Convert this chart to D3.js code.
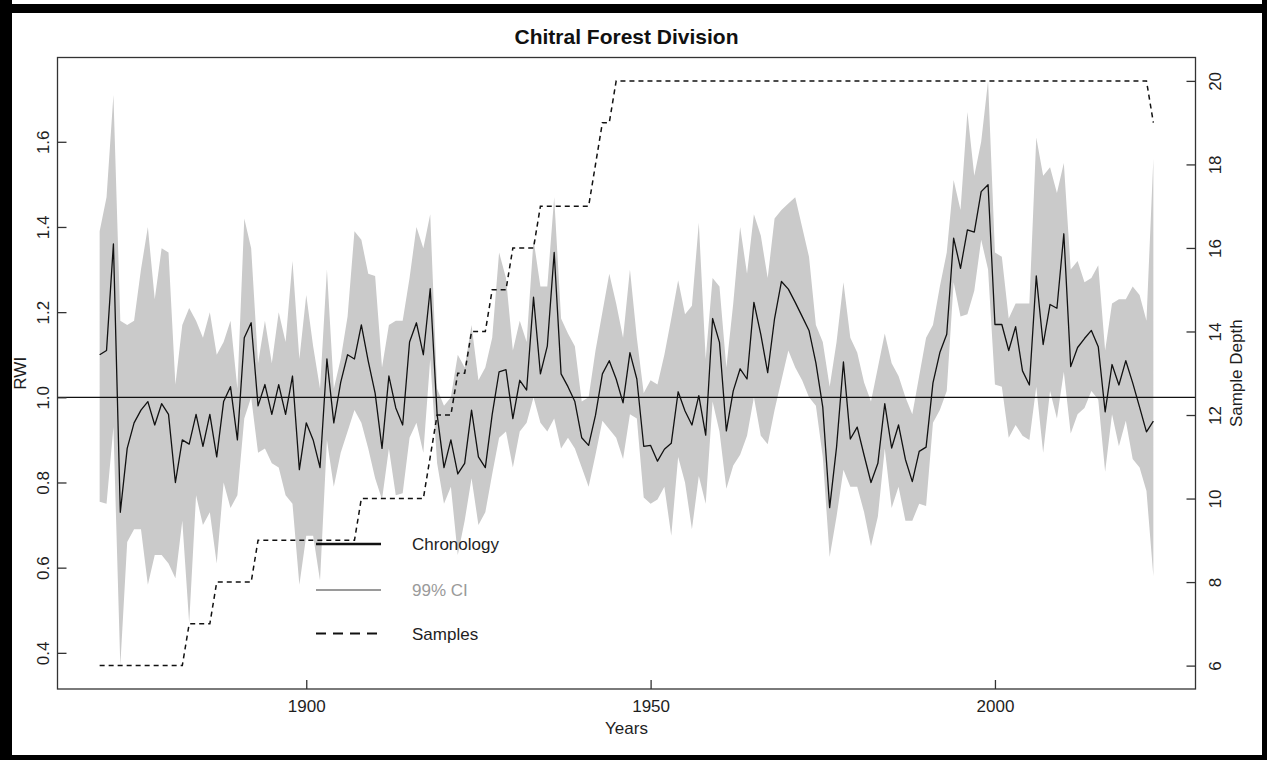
<!DOCTYPE html>
<html><head><meta charset="utf-8">
<script src="https://cdn.jsdelivr.net/npm/d3@7/dist/d3.min.js"></script>
<style>html,body{margin:0;padding:0;background:#fff;} svg{display:block;font-family:"Liberation Sans",Arial,Helvetica,sans-serif;}</style>
</head><body><svg id="c" width="1267" height="760"></svg>
<script>
const title = "Chitral Forest Division";
const startYear = 1870;
const chronology = [
1.10,1.11,1.36,0.73,0.88,0.94,0.97,0.99,0.935,0.985,
0.96,0.80,0.90,0.89,0.96,0.885,0.96,0.86,0.99,1.025,
0.90,1.14,1.175,0.98,1.03,0.96,1.03,0.96,1.05,0.83,
0.94,0.90,0.835,1.09,0.94,1.035,1.10,1.09,1.17,1.085,
1.01,0.88,1.05,0.975,0.935,1.13,1.175,1.10,1.255,0.96,
0.835,0.90,0.82,0.845,0.97,0.86,0.835,0.96,1.06,1.065,
0.95,1.04,1.017,1.235,1.055,1.12,1.34,1.055,1.025,0.99,
0.905,0.887,0.958,1.055,1.086,1.043,0.987,1.105,1.043,0.885,
0.887,0.85,0.878,0.892,1.013,0.968,0.935,1.004,0.911,1.185,
1.129,0.921,1.015,1.067,1.043,1.223,1.148,1.058,1.185,1.272,
1.254,1.223,1.19,1.157,1.081,0.977,0.741,0.883,1.083,0.902,
0.93,0.864,0.80,0.845,0.985,0.881,0.935,0.854,0.802,0.873,
0.883,1.034,1.105,1.148,1.374,1.303,1.393,1.388,1.483,1.499,
1.171,1.171,1.11,1.166,1.062,1.029,1.285,1.124,1.218,1.209,
1.384,1.072,1.117,1.138,1.157,1.119,0.966,1.077,1.029,1.086,
1.034,0.977,0.919,0.944];
const ciUpper = [
1.39,1.47,1.71,1.18,1.17,1.18,1.30,1.40,1.23,1.35,
1.34,1.03,1.17,1.21,1.18,1.14,1.20,1.10,1.13,1.18,
1.02,1.42,1.35,1.08,1.18,1.08,1.20,1.13,1.32,1.09,
1.24,1.12,1.02,1.30,1.02,1.09,1.19,1.39,1.37,1.29,
1.285,1.07,1.17,1.18,1.18,1.28,1.40,1.35,1.43,1.02,
0.98,1.00,1.10,1.07,1.17,1.04,1.07,1.14,1.34,1.28,
1.11,1.18,1.13,1.37,1.26,1.26,1.47,1.185,1.15,1.12,
0.99,1.00,1.11,1.20,1.29,1.22,1.14,1.30,1.14,1.01,
1.04,1.03,1.10,1.185,1.275,1.195,1.215,1.41,1.09,1.28,
1.26,1.07,1.22,1.40,1.29,1.43,1.38,1.28,1.42,1.44,
1.455,1.47,1.40,1.33,1.17,1.13,1.025,1.13,1.27,1.14,
1.105,1.035,0.99,1.07,1.15,1.08,1.05,1.00,0.96,1.05,
1.14,1.17,1.26,1.34,1.51,1.44,1.67,1.52,1.60,1.743,
1.34,1.33,1.185,1.22,1.22,1.22,1.61,1.52,1.54,1.48,
1.55,1.30,1.32,1.27,1.28,1.31,1.11,1.22,1.23,1.23,
1.26,1.24,1.18,1.56];
const ciLower = [
0.755,0.75,0.93,0.37,0.66,0.69,0.69,0.56,0.63,0.63,
0.61,0.575,0.71,0.47,0.77,0.70,0.73,0.61,0.80,0.74,
0.77,0.95,1.00,0.87,0.88,0.845,0.835,0.77,0.75,0.56,
0.675,0.675,0.57,0.90,0.79,0.87,0.92,0.97,0.94,0.88,
0.81,0.76,0.88,0.77,0.775,0.905,0.94,0.87,1.09,0.845,
0.75,0.79,0.63,0.71,0.81,0.70,0.73,0.82,0.905,0.92,
0.835,0.92,0.94,1.00,0.94,0.92,0.95,0.88,0.905,0.88,
0.835,0.79,0.865,0.945,0.925,0.905,0.855,0.96,0.95,0.765,
0.75,0.76,0.79,0.675,0.86,0.80,0.69,0.815,0.75,0.99,
0.92,0.785,0.84,0.865,0.91,1.00,0.91,0.89,0.97,1.04,
1.11,1.07,1.04,1.00,0.98,0.86,0.625,0.72,0.83,0.79,
0.79,0.73,0.65,0.72,0.88,0.74,0.79,0.71,0.71,0.75,
0.745,0.94,0.97,1.015,1.27,1.19,1.195,1.25,1.37,1.30,
1.03,1.025,0.905,0.935,0.91,0.90,1.025,0.87,1.015,0.95,
1.06,0.915,0.96,0.975,1.015,0.995,0.825,0.96,0.885,0.945,
0.855,0.835,0.78,0.58];
const sampleDepth = [
6,6,6,6,6,6,6,6,6,6,
6,6,6,7,7,7,7,8,8,8,
8,8,8,9,9,9,9,9,9,9,
9,9,9,9,9,9,9,9,10,10,
10,10,10,10,10,10,10,10,11,12,
12,12,13,13,14,14,14,15,15,15,
16,16,16,16,17,17,17,17,17,17,
17,17,18,19,19,20,20,20,20,20,
20,20,20,20,20,20,20,20,20,20,
20,20,20,20,20,20,20,20,20,20,
20,20,20,20,20,20,20,20,20,20,
20,20,20,20,20,20,20,20,20,20,
20,20,20,20,20,20,20,20,20,20,
20,20,20,20,20,20,20,20,20,20,
20,20,20,20,20,20,20,20,20,20,
20,20,20,19];
const yearTicks = [1900, 1950, 2000];
const rwiTicks = [0.4, 0.6, 0.8, 1.0, 1.2, 1.4, 1.6];
const depthTicks = [6, 8, 10, 12, 14, 16, 18, 20];
const legendLabels = ["Chronology", "99% CI", "Samples"];

const years = chronology.map((_, i) => startYear + i);
const rows = years.map((y, i) => ({year: y, rwi: chronology[i], hi: ciUpper[i], lo: ciLower[i], n: sampleDepth[i]}));

const svg = d3.select("#c");
// outer black frame
svg.append("rect").attr("x",0).attr("y",0).attr("width",1267).attr("height",760).attr("fill","#000");
svg.append("rect").attr("x",12).attr("y",0).attr("width",1250).attr("height",4).attr("fill","#fff");
svg.append("rect").attr("x",12).attr("y",13).attr("width",1250).attr("height",742).attr("fill","#fff");

const L = 57.5, R = 1195.5, T = 57.5, B = 689;
function ext(a){ const d = (a[1]-a[0])*0.04; return [a[0]-d, a[1]+d]; }
const x = d3.scaleLinear().domain(ext(d3.extent(years))).range([L, R]);
const y = d3.scaleLinear().domain(ext([d3.min(ciLower), d3.max(ciUpper)])).range([B, T]);
const y2 = d3.scaleLinear().domain(ext(d3.extent(sampleDepth))).range([B, T]);

const g = svg.append("g");
g.append("path").datum(rows)
  .attr("d", d3.area().x(d => x(d.year)).y0(d => y(d.lo)).y1(d => y(d.hi)))
  .attr("fill", "#cacaca");
g.append("line").attr("x1", L).attr("x2", R).attr("y1", y(1)).attr("y2", y(1))
  .attr("stroke", "#111").attr("stroke-width", 1.2);
g.append("path").datum(rows)
  .attr("d", d3.line().x(d => x(d.year)).y(d => y(d.rwi)))
  .attr("fill", "none").attr("stroke", "#111").attr("stroke-width", 1.3).attr("stroke-linejoin","round");
g.append("path").datum(rows)
  .attr("d", d3.line().x(d => x(d.year)).y(d => y2(d.n)))
  .attr("fill", "none").attr("stroke", "#111").attr("stroke-width", 1.5).attr("stroke-dasharray", "5,4");

// box
svg.append("rect").attr("x", L).attr("y", T).attr("width", R-L).attr("height", B-T)
  .attr("fill", "none").attr("stroke", "#333").attr("stroke-width", 1.3);

const txt = "#1e1e1e";
// bottom axis (ticks inward)
const ax = svg.append("g").attr("transform", `translate(0,${B})`)
  .call(d3.axisBottom(x).tickValues(yearTicks).tickFormat(d3.format("d")).tickSizeInner(-9).tickSizeOuter(0).tickPadding(11));
ax.select(".domain").remove();
ax.selectAll("line").attr("stroke", "#333").attr("stroke-width", 1.3);
ax.selectAll("text").attr("font-size", 17).attr("fill", txt).attr("font-family", "Liberation Sans, Arial, sans-serif");

// left axis
const ayl = svg.append("g").attr("transform", `translate(${L},0)`)
  .call(d3.axisLeft(y).tickValues(rwiTicks).tickFormat(d3.format(".1f")).tickSizeInner(-9).tickSizeOuter(0));
ayl.select(".domain").remove();
ayl.selectAll("line").attr("stroke", "#333").attr("stroke-width", 1.3);
ayl.selectAll("text").attr("font-size", 17).attr("fill", txt).attr("font-family", "Liberation Sans, Arial, sans-serif")
  .attr("x", 0).attr("dy", 0).attr("text-anchor", "middle")
  .attr("transform", "translate(-9,0) rotate(-90)");

// right axis
const ayr = svg.append("g").attr("transform", `translate(${R},0)`)
  .call(d3.axisRight(y2).tickValues(depthTicks).tickFormat(d3.format("d")).tickSizeInner(-9).tickSizeOuter(0));
ayr.select(".domain").remove();
ayr.selectAll("line").attr("stroke", "#333").attr("stroke-width", 1.3);
ayr.selectAll("text").attr("font-size", 17).attr("fill", txt).attr("font-family", "Liberation Sans, Arial, sans-serif")
  .attr("x", 0).attr("dy", 0).attr("text-anchor", "middle")
  .attr("transform", "translate(25,0) rotate(-90)");

// titles
svg.append("text").attr("x", (L+R)/2).attr("y", 44).attr("text-anchor", "middle")
  .attr("font-size", 21).attr("font-weight", "bold").attr("fill", "#111").text(title);
svg.append("text").attr("x", (L+R)/2).attr("y", 734).attr("text-anchor", "middle")
  .attr("font-size", 17).attr("fill", txt).text("Years");
svg.append("text").attr("transform", `translate(26,${(T+B)/2}) rotate(-90)`).attr("text-anchor", "middle")
  .attr("font-size", 17).attr("fill", txt).text("RWI");
svg.append("text").attr("transform", `translate(1242,${(T+B)/2}) rotate(-90)`).attr("text-anchor", "middle")
  .attr("font-size", 17).attr("fill", txt).text("Sample Depth");

// legend
const legY = [544, 590, 633.5];
const leg = svg.append("g");
leg.append("line").attr("x1",316).attr("x2",381).attr("y1",legY[0]).attr("y2",legY[0]).attr("stroke","#111").attr("stroke-width",2.5);
leg.append("line").attr("x1",316).attr("x2",381).attr("y1",legY[1]).attr("y2",legY[1]).attr("stroke","#9a9a9a").attr("stroke-width",2);
leg.append("line").attr("x1",316).attr("x2",381).attr("y1",legY[2]).attr("y2",legY[2]).attr("stroke","#111").attr("stroke-width",2.2).attr("stroke-dasharray","10,7");
const legCol = [txt, "#9a9a9a", txt];
legendLabels.forEach((t, i) => {
  leg.append("text").attr("x", 412).attr("y", legY[i]).attr("dy", "0.36em")
    .attr("font-size", 17).attr("fill", legCol[i]).text(t);
});
</script></body></html>
